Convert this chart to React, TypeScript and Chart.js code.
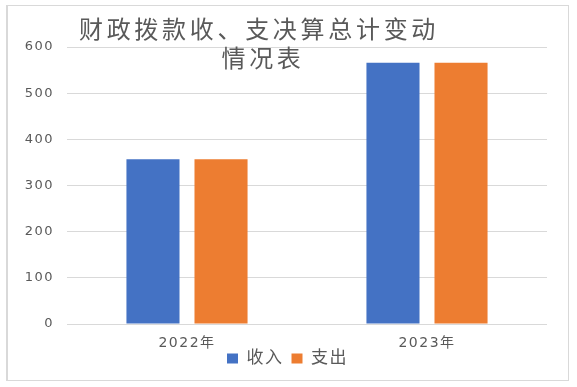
import React, { useEffect, useRef } from 'react';
import { Chart, registerables } from 'chart.js';

Chart.register(...registerables);

const categories = ['2022年', '2023年'];
const seriesNames = ['收入', '支出'];
const incomeValues = [357, 566];
const expenseValues = [357, 566];
const seriesColors = ['#4472C4', '#ED7D31'];
const titleLines = ['财政拨款收、支决算总计变动', '情况表'];
const yMin = 0;
const yMax = 600;
const yStep = 100;

const FONT = '"DejaVu Sans", "Noto Sans CJK SC", sans-serif';
const TEXT_COLOR = '#595959';

const framePlugin = {
  id: 'frame',
  beforeLayout(chart: any) {
    chart.ctx.letterSpacing = '1.5px';
  },
  beforeDraw(chart: any) {
    const ctx = chart.ctx;
    ctx.letterSpacing = '1.5px';
    ctx.save();
    ctx.fillStyle = '#ffffff';
    ctx.fillRect(0, 0, chart.width, chart.height);
    ctx.strokeStyle = '#d9d9d9';
    ctx.lineWidth = 1;
    ctx.strokeRect(6.5, 5.5, 562, 375);
    ctx.fillStyle = '#d9d9d9';
    ctx.fillRect(6, 5, 2, 376);
    ctx.restore();
  },
  afterDraw(chart: any) {
    const ctx = chart.ctx;
    ctx.save();
    ctx.fillStyle = TEXT_COLOR;
    ctx.font = `24px ${FONT}`;
    ctx.letterSpacing = '3.7px';
    ctx.textAlign = 'center';
    ctx.textBaseline = 'middle';
    ctx.fillText(titleLines[0], 259, 32);
    ctx.fillText(titleLines[1], 263, 61);
    ctx.restore();
  },
};

export default function App() {
  const ref = useRef<HTMLCanvasElement | null>(null);

  useEffect(() => {
    if (!ref.current) return;
    const chart = new Chart(ref.current, {
      type: 'bar',
      data: {
        labels: categories,
        datasets: [
          {
            label: seriesNames[0],
            data: incomeValues,
            backgroundColor: seriesColors[0],
            categoryPercentage: 0.567,
            barPercentage: 0.78,
          },
          {
            label: seriesNames[1],
            data: expenseValues,
            backgroundColor: seriesColors[1],
            categoryPercentage: 0.567,
            barPercentage: 0.78,
          },
        ],
      },
      options: {
        responsive: false,
        animation: false,
        layout: { padding: { left: 28, right: 30, top: 47, bottom: 10 } },
        plugins: {
          title: { display: false },
          tooltip: { enabled: false },
          legend: {
            position: 'bottom',
            labels: {
              boxWidth: 11,
              boxHeight: 10,
              padding: 8,
              color: TEXT_COLOR,
              font: { size: 17, family: FONT },
            },
          },
        },
        scales: {
          x: {
            grid: { display: false, drawTicks: false },
            border: { display: false },
            ticks: {
              color: TEXT_COLOR,
              padding: 11,
              font: { size: 14, family: FONT },
            },
            afterFit: (s: any) => {
              s.height = 18;
              s._computeLabelArea = () => undefined;
            },
          },
          y: {
            min: yMin,
            max: yMax,
            grid: { color: '#d9d9d9', drawTicks: false },
            border: { display: false },
            ticks: {
              stepSize: yStep,
              color: TEXT_COLOR,
              padding: 13,
              font: { size: 13, family: FONT },
            },
            afterFit: (s: any) => {
              s.width = 39;
              s._computeLabelArea = () => undefined;
            },
          },
        },
      },
      plugins: [framePlugin],
    });
    return () => chart.destroy();
  }, []);

  return (
    <div style={{ position: 'absolute', left: 0, top: 0, width: 577, height: 387 }}>
      <canvas ref={ref} width={577} height={387} />
    </div>
  );
}
